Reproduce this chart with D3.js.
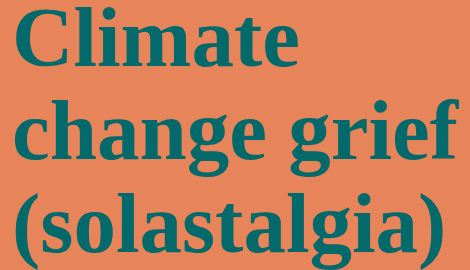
<!DOCTYPE html>
<html>
<head>
<meta charset="utf-8">
<script src="https://cdn.jsdelivr.net/npm/d3@7"></script>
<style>
  html, body { margin: 0; padding: 0; background: #e8845a; overflow: hidden; }
</style>
</head>
<body>
<div id="chart"></div>
<script>
const titleLines = ["Climate", "change grief", "(solastalgia)"];

const width = 470, height = 270;
const fontSize = 85;
const lineHeight = 93;
const firstBaseline = 66;

const svg = d3.select("#chart").append("svg")
    .attr("width", width)
    .attr("height", height);

svg.append("rect")
    .attr("width", width)
    .attr("height", height)
    .attr("fill", "#e8845a");

svg.selectAll("text.titleLine")
    .data(titleLines)
    .enter()
    .append("text")
    .attr("class", "titleLine")
    .attr("x", 12)
    .attr("y", (d, i) => firstBaseline + i * lineHeight)
    .attr("fill", "#03696a")
    .style("font-family", "'Liberation Serif', 'Times New Roman', serif")
    .style("font-weight", "bold")
    .style("font-size", fontSize + "px")
    .text(d => d);
</script>
</body>
</html>
